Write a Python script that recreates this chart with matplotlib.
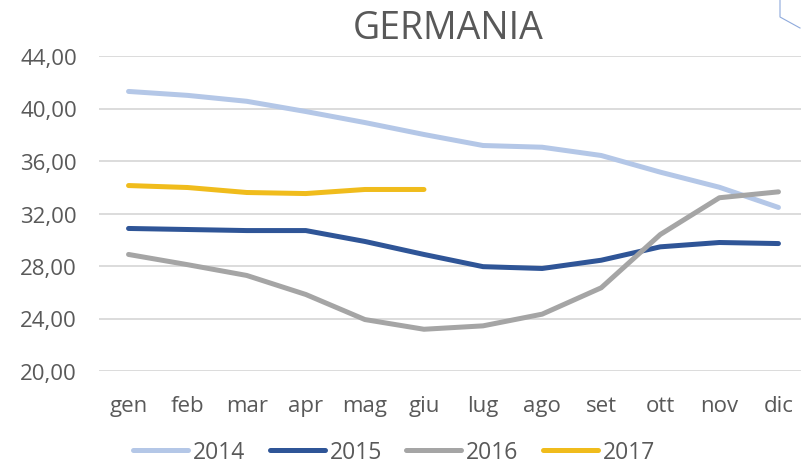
import numpy as np
import matplotlib
matplotlib.use('Agg')
import matplotlib.pyplot as plt
from matplotlib.lines import Line2D

# months (Italian abbreviations)
months = ['gen', 'feb', 'mar', 'apr', 'mag', 'giu',
          'lug', 'ago', 'set', 'ott', 'nov', 'dic']

# values
y2014 = [41.30, 41.00, 40.55, 39.77, 38.93, 38.02,
         37.18, 37.05, 36.42, 35.15, 34.00, 32.46]
y2015 = [30.86, 30.78, 30.70, 30.70, 29.87, 28.88,
         27.95, 27.81, 28.44, 29.46, 29.79, 29.71]
y2016 = [28.88, 28.10, 27.28, 25.83, 23.92, 23.18,
         23.44, 24.33, 26.34, 30.40, 33.20, 33.65]
y2017 = [34.13, 33.98, 33.60, 33.52, 33.83, 33.83]

years = ['2014', '2015', '2016', '2017']
colors = ['#B4C7E7', '#2F5597', '#A5A5A5', '#F0BC1C']
yticks = [20, 24, 28, 32, 36, 40, 44]

text_col = '#595959'
plt.rcParams['font.family'] = ['Open Sans', 'DejaVu Sans']

fig = plt.figure(figsize=(8.01, 4.64), dpi=100)
ax = fig.add_axes([99 / 801, 1 - 372 / 464, 709 / 801, 315 / 464])

x = np.arange(len(months))
for vals, c, lab in zip([y2014, y2015, y2016, y2017], colors, years):
    ax.plot(x[:len(vals)], vals, color=c, lw=3.6, solid_capstyle='round',
            solid_joinstyle='round', label=lab)

ax.set_xlim(-0.5, 11.5)
ax.set_ylim(20, 44)
ax.set_yticks(yticks)
ax.set_yticklabels([('%.2f' % v).replace('.', ',') for v in yticks])
ax.set_xticks(x)
ax.set_xticklabels(months)
ax.tick_params(length=0, labelsize=16, colors=text_col)
ax.tick_params(axis='x', pad=17)
ax.tick_params(axis='y', pad=16)
ax.grid(axis='y', color='#D9D9D9', lw=1.3)
ax.set_axisbelow(True)
for s in ax.spines.values():
    s.set_visible(False)

fig.text(448 / 801, 1 - 29 / 464, 'GERMANIA', ha='center', va='center',
         fontsize=27, color=text_col)

handles = [Line2D([], [], color=c, lw=3.6, solid_capstyle='round') for c in colors]
fig.legend(handles, years, loc='center', bbox_to_anchor=(394 / 801, 1 - 453 / 464),
           ncol=4, frameon=False, fontsize=16.5, labelcolor=text_col,
           handlelength=2.4, handletextpad=0.22, columnspacing=1.05,
           borderpad=0, borderaxespad=0)

# little frame corner at top right
fig.add_artist(Line2D([780 / 801, 780 / 801, 800 / 801],
                      [1, 1 - 18 / 464, 1 - 29 / 464],
                      color='#8FAADC', lw=0.8, transform=fig.transFigure))

fig.savefig('out.png', dpi=100)
